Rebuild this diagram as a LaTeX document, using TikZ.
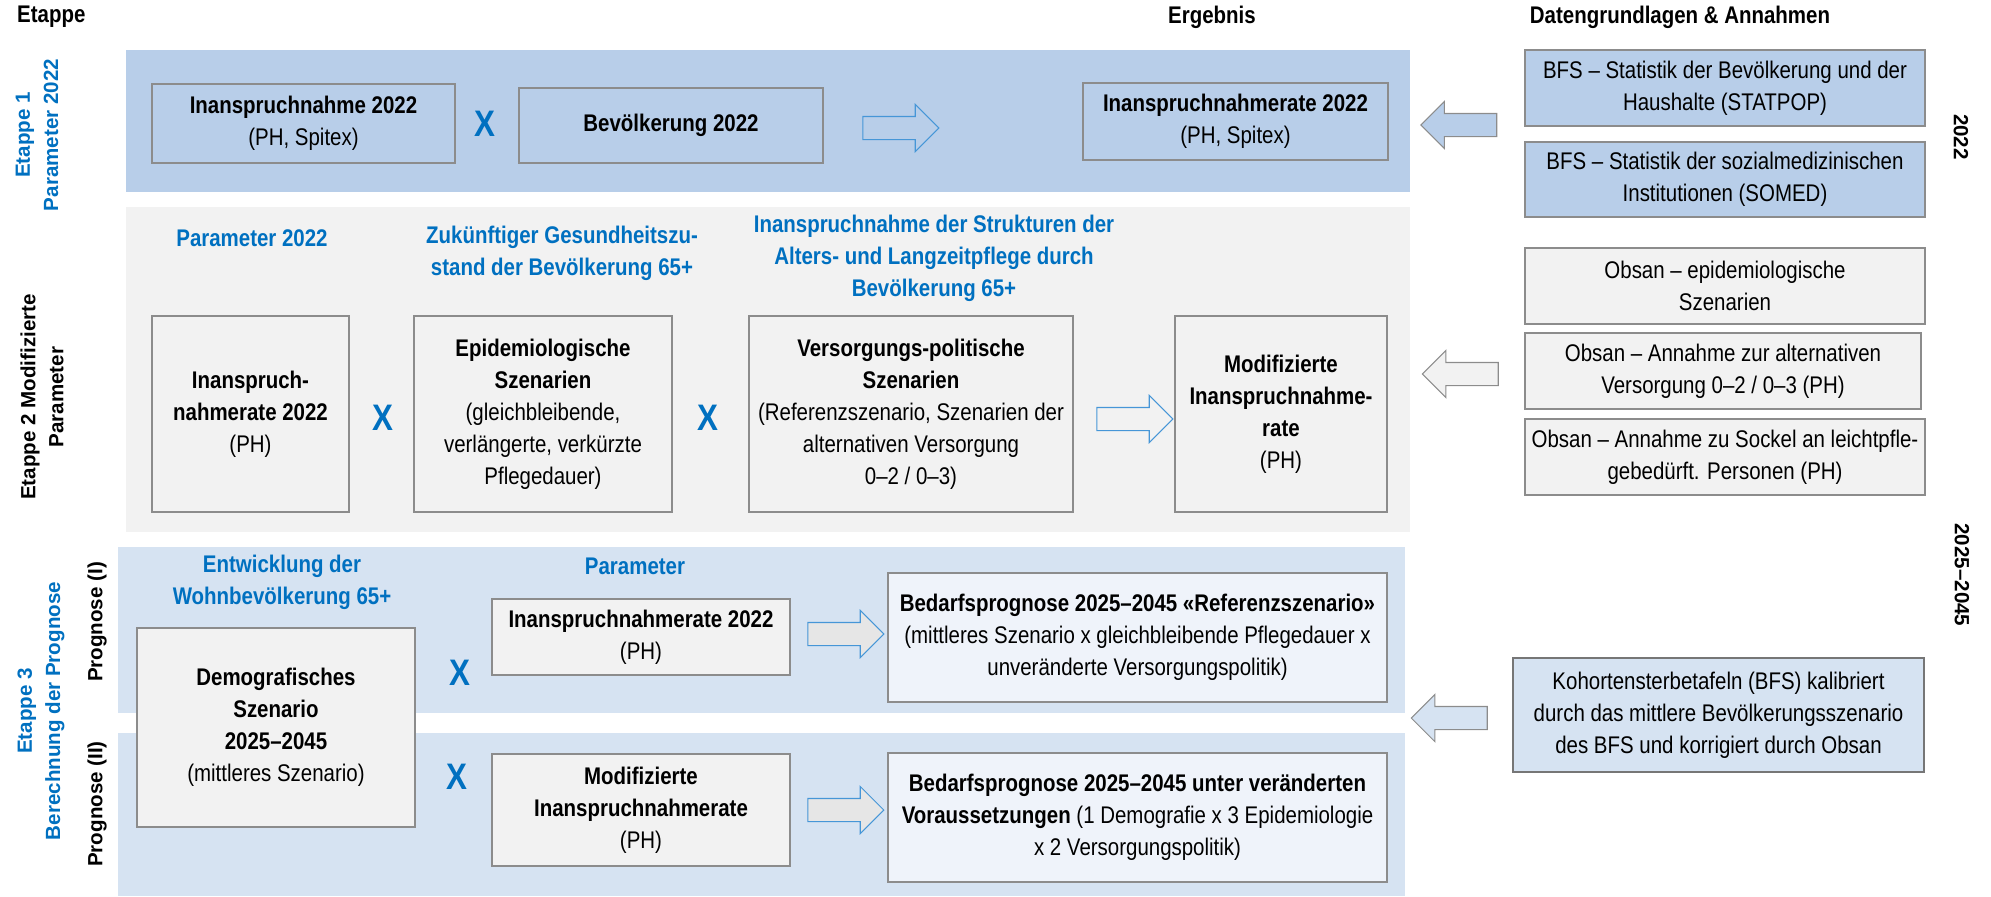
\documentclass[tikz,border=0pt]{standalone}
\usepackage{fontspec}
\setmainfont{Liberation Sans}[FakeStretch=0.85]
\newfontfamily\sidefont{Liberation Sans}
\usepackage{tikz}
\usetikzlibrary{shapes.arrows}

\definecolor{bandblue}{RGB}{184,206,233}
\definecolor{bandgrey}{RGB}{242,242,242}
\definecolor{bandlight}{RGB}{214,227,242}
\definecolor{boxline}{RGB}{140,140,140}
\definecolor{darkline}{RGB}{118,118,118}
\definecolor{headblue}{RGB}{0,112,192}
\definecolor{arrowblue}{RGB}{70,150,215}
\definecolor{resultfill}{RGB}{239,243,250}
\definecolor{arrowgrey}{RGB}{230,230,230}

\begin{document}
\begin{tikzpicture}[x=0.02cm,y=-0.02cm,
  box/.style={draw=boxline,line width=0.7pt,inner sep=0pt,align=center,font=\fontsize{13.7}{18.2}\selectfont},
  mult/.style={text=headblue,font=\fontsize{21}{24}\selectfont\bfseries},
  bandhead/.style={text=headblue,align=center,font=\fontsize{13.7}{18.2}\selectfont\bfseries},
  colhead/.style={font=\fontsize{13.7}{18.2}\selectfont\bfseries},
  sidelabel/.style={align=center,font=\fontsize{11.7}{16}\sidefont\bfseries},
  fwd/.style={single arrow,draw=arrowblue,line width=0.6pt,inner xsep=0pt,inner ysep=0.22cm,
    single arrow head extend=0.24cm,minimum height=1.52cm},
  back/.style={fwd,draw=boxline,shape border rotate=180}]
\useasboundingbox (0,0) rectangle (1991,896);
\fill[bandblue] (126,50) rectangle (1410,192);
\fill[bandgrey] (126,207) rectangle (1410,532);
\fill[bandlight] (118,547) rectangle (1405,713);
\fill[bandlight] (118,733) rectangle (1405,896);

\node at (11,17) [colhead,anchor=west] (etappe) {Etappe};
\node at (1212,17) [colhead] (ergebnis) {Ergebnis};
\node at (1680,17) [colhead] (daten) {Datengrundlagen \& Annahmen};

\node at (37,135) [sidelabel,rotate=90,text=headblue] (side1) {Etappe 1\\Parameter 2022};
\node at (42,397) [sidelabel,rotate=90] (side2) {Etappe 2 Modifizierte\\Parameter};
\node at (41,711) [sidelabel,rotate=90,text=headblue] (side3) {Etappe 3\\Berechnung der Prognose};
\node at (97,622) [sidelabel,rotate=90] (prog1) {Prognose (I)};
\node at (97,804) [sidelabel,rotate=90] (prog2) {Prognose (II)};
\node at (1961,137) [sidelabel,rotate=-90] (year1) {2022};
\node at (1962,575) [sidelabel,rotate=-90] (year2) {2025–2045};

\node at (303.5,123.5) [box,fill=bandblue,minimum width=6.06cm,minimum height=1.58cm] (inan) {\textbf{Inanspruchnahme 2022}\\(PH, Spitex)};
\node at (485,124) [mult] (x1) {X};
\node at (671,125.5) [box,fill=bandblue,minimum width=6.08cm,minimum height=1.5cm] (bev) {\textbf{Bevölkerung 2022}};
\node at (895,128) [fwd,fill=bandblue] (ar1) {};
\node at (1235.5,121.5) [box,fill=bandblue,minimum width=6.1cm,minimum height=1.54cm] (rate) {\textbf{Inanspruchnahmerate 2022}\\(PH, Spitex)};
\node at (1464.5,125) [back,fill=bandblue] (lar1) {};
\node at (1725,88) [box,fill=bandblue,minimum width=8cm,minimum height=1.52cm] (statpop) {BFS – Statistik der Bevölkerung und der\\Haushalte (STATPOP)};
\node at (1725,179.5) [box,fill=bandblue,minimum width=8cm,minimum height=1.5cm] (somed) {BFS – Statistik der sozialmedizinischen\\Institutionen (SOMED)};

\node at (252,238) [bandhead] (h21) {Parameter 2022};
\node at (562,253) [bandhead] (h22) {Zukünftiger Gesundheitszu-\\stand der Bevölkerung 65+};
\node at (934,258) [bandhead] (h23) {Inanspruchnahme der Strukturen der\\Alters- und Langzeitpflege durch\\Bevölkerung 65+};
\node at (250.5,414) [box,fill=bandgrey,minimum width=3.94cm,minimum height=3.92cm] (rate2) {\textbf{Inanspruch-}\\\textbf{nahmerate 2022}\\(PH)};
\node at (383,418) [mult] (x2) {X};
\node at (543,414) [box,fill=bandgrey,minimum width=5.16cm,minimum height=3.92cm] (epi) {\textbf{Epidemiologische}\\\textbf{Szenarien}\\(gleichbleibende,\\verlängerte, verkürzte\\Pflegedauer)};
\node at (708,418) [mult] (x3) {X};
\node at (911,414) [box,fill=bandgrey,minimum width=6.48cm,minimum height=3.92cm] (vers) {\textbf{Versorgungs-politische}\\\textbf{Szenarien}\\(Referenzszenario, Szenarien der\\alternativen Versorgung\\0–2 / 0–3)};
\node at (1129,419) [fwd,fill=bandgrey] (ar2) {};
\node at (1281,414) [box,fill=bandgrey,minimum width=4.24cm,minimum height=3.92cm] (modrate) {\textbf{Modifizierte}\\\textbf{Inanspruchnahme-}\\\textbf{rate}\\(PH)};
\node at (1466,374) [back,fill=bandgrey] (lar2) {};
\node at (1725,286) [box,fill=bandgrey,minimum width=8cm,minimum height=1.52cm] (obs1) {Obsan – epidemiologische\\Szenarien};
\node at (1723,371) [box,fill=bandgrey,minimum width=7.92cm,minimum height=1.52cm] (obs2) {Obsan – Annahme zur alternativen\\Versorgung 0–2 / 0–3 (PH)};
\node at (1725,457) [box,fill=bandgrey,minimum width=8cm,minimum height=1.52cm] (obs3) {Obsan – Annahme zu Sockel an leichtpfle-\\gebedürft. Personen (PH)};

\node at (282,582) [bandhead] (h31) {Entwicklung der\\Wohnbevölkerung 65+};
\node at (635,566) [bandhead] (h32) {Parameter};
\node at (276,727.5) [box,fill=bandgrey,minimum width=5.56cm,minimum height=3.98cm] (demo) {\textbf{Demografisches}\\\textbf{Szenario}\\\textbf{2025–2045}\\(mittleres Szenario)};
\node at (460,673) [mult] (x4) {X};
\node at (457,777) [mult] (x5) {X};
\node at (641,637) [box,fill=bandgrey,minimum width=5.96cm,minimum height=1.52cm] (rate3) {\textbf{Inanspruchnahmerate 2022}\\(PH)};
\node at (641,810) [box,fill=bandgrey,minimum width=5.96cm,minimum height=2.24cm] (modrate3) {\textbf{Modifizierte}\\\textbf{Inanspruchnahmerate}\\(PH)};
\node at (840,634) [fwd,fill=arrowgrey] (ar3) {};
\node at (840,810) [fwd,fill=arrowgrey] (ar4) {};
\node at (1137.5,637.5) [box,fill=resultfill,minimum width=9.98cm,minimum height=2.58cm] (progref) {\textbf{Bedarfsprognose 2025–2045 «Referenzszenario»}\\(mittleres Szenario x gleichbleibende Pflegedauer x\\unveränderte Versorgungspolitik)};
\node at (1137.5,817.5) [box,fill=resultfill,minimum width=9.98cm,minimum height=2.58cm] (progmod) {\textbf{Bedarfsprognose 2025–2045 unter veränderten}\\\textbf{Voraussetzungen} (1 Demografie x 3 Epidemiologie\\x 2 Versorgungspolitik)};
\node at (1455,718) [back,fill=bandlight] (lar3) {};
\node at (1718.5,715) [box,fill=bandlight,draw=darkline,line width=1.2pt,minimum width=8.22cm,minimum height=2.28cm] (kohorte) {Kohortensterbetafeln (BFS) kalibriert\\durch das mittlere Bevölkerungsszenario\\des BFS und korrigiert durch Obsan};
\end{tikzpicture}
\end{document}
